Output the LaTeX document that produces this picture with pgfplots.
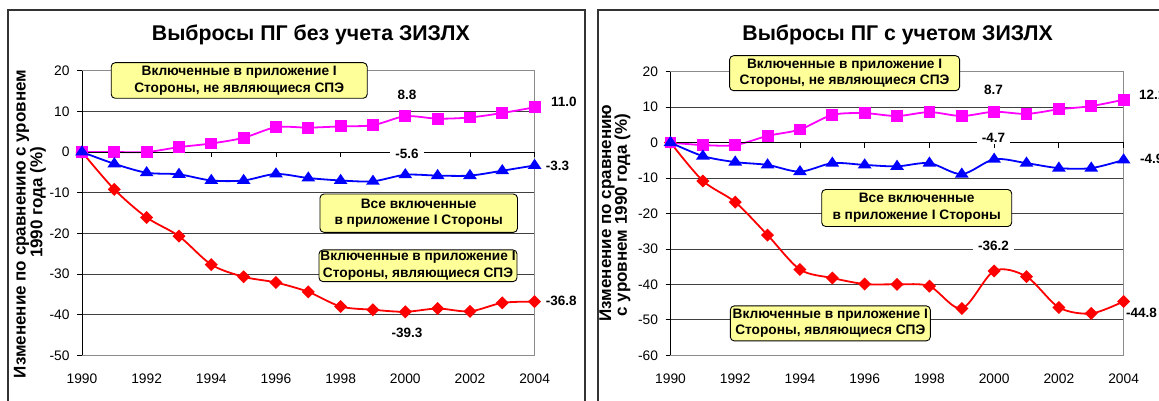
\documentclass[border=0pt]{standalone}
\usepackage{fontspec}
\setmainfont{Liberation Sans}
\usepackage{pgfplots}
\pgfplotsset{compat=1.18}
\definecolor{boxyellow}{HTML}{FFFF99}
\definecolor{mag}{HTML}{FF00FF}
\definecolor{gridgray}{HTML}{404040}
\definecolor{bordergray}{HTML}{8C8C8C}
\definecolor{framegray}{HTML}{333333}

\pgfplotsset{
 mychart/.style={
  scale only axis,
  anchor=south west,
  xmin=1990, xmax=2004,
  xtick={1990,1992,...,2004},
  /pgf/number format/assume math mode=true,
  /pgf/number format/1000 sep={},
  x tick label style={font=\fontsize{13.8}{16}\selectfont, yshift=-10pt},
  y tick label style={font=\fontsize{13.8}{16}\selectfont, xshift=-4pt},
  ytick distance=10,
  ymajorgrids,
  grid style={gridgray, line width=0.8pt},
  axis line style={bordergray, line width=0.9pt},
  tick align=outside,
  ytick pos=left,
  major tick length=5pt,
  xtick style={draw=none},
  ytick style={black, line width=0.8pt},
  clip=false,
 },
 magser/.style={mag, line width=1.8pt, smooth, mark=square*, mark size=5pt, mark options={solid}},
 bluser/.style={blue, line width=1.8pt, smooth, mark=triangle*, mark size=6pt, mark options={solid, yscale=0.85}},
 redser/.style={red, line width=1.8pt, smooth, mark=square*, mark size=3.7pt, mark options={solid, rotate=45}},
}
\tikzset{
 lbox/.style={draw=black, fill=boxyellow, rounded corners=4pt, line width=0.9pt, align=center, inner sep=0pt,
   font=\bfseries\fontsize{13.7}{16.6}\selectfont},
 dlab/.style={font=\bfseries\fontsize{13.5}{15}\selectfont, inner sep=2pt},
 ylab/.style={font=\bfseries\fontsize{17}{19}\selectfont, rotate=90},
}

\begin{document}
\begin{tikzpicture}
\useasboundingbox (0,0) rectangle (1159pt,401pt);
% frames
\draw[framegray, line width=1.5pt] (8pt,391pt) rectangle (585pt,-10pt);
\draw[framegray, line width=1.5pt] (598pt,391pt) rectangle (1175pt,-10pt);

% ---------- left chart ----------
\begin{axis}[mychart, at={(82pt,45.7pt)}, width=452.6pt, height=284.6pt, ymin=-50, ymax=20]
\addplot[redser] coordinates {(1990,0) (1991,-9.2) (1992,-16.1) (1993,-20.7) (1994,-27.7) (1995,-30.7) (1996,-32.1) (1997,-34.4) (1998,-38.0) (1999,-38.8) (2000,-39.3) (2001,-38.5) (2002,-39.2) (2003,-37.1) (2004,-36.8)};
\addplot[magser] coordinates {(1990,0) (1991,0) (1992,0) (1993,1.2) (1994,2.1) (1995,3.5) (1996,6.1) (1997,6.0) (1998,6.3) (1999,6.6) (2000,8.8) (2001,8.2) (2002,8.5) (2003,9.6) (2004,11.0)};
\addplot[bluser] coordinates {(1990,0) (1991,-2.9) (1992,-5.1) (1993,-5.5) (1994,-7.0) (1995,-7.0) (1996,-5.4) (1997,-6.4) (1998,-7.0) (1999,-7.2) (2000,-5.6) (2001,-5.8) (2002,-5.8) (2003,-4.6) (2004,-3.3)};
\draw[black, line width=0.8pt] (rel axis cs:0,0) -- (rel axis cs:0,1);
\draw[black, line width=0.8pt] (axis cs:1990,0) -- (axis cs:2004,0);
\pgfplotsinvokeforeach{1992,1994,1996,1998,2000,2002,2004}{\draw[black, line width=0.8pt] (axis cs:#1,0) -- ++(0pt,-5pt);}
\end{axis}

% ---------- right chart ----------
\begin{axis}[mychart, at={(670.5pt,45.7pt)}, width=453.1pt, height=283.6pt, ymin=-60, ymax=20]
\addplot[redser] coordinates {(1990,0) (1991,-10.8) (1992,-16.8) (1993,-26.1) (1994,-35.8) (1995,-38.2) (1996,-39.9) (1997,-40.0) (1998,-40.5) (1999,-46.8) (2000,-36.2) (2001,-37.8) (2002,-46.5) (2003,-48.2) (2004,-44.8)};
\addplot[magser] coordinates {(1990,0) (1991,-0.7) (1992,-0.7) (1993,1.9) (1994,3.7) (1995,7.8) (1996,8.3) (1997,7.5) (1998,8.6) (1999,7.5) (2000,8.7) (2001,8.1) (2002,9.4) (2003,10.3) (2004,12.1)};
\addplot[bluser] coordinates {(1990,0) (1991,-3.8) (1992,-5.5) (1993,-6.3) (1994,-8.2) (1995,-5.8) (1996,-6.3) (1997,-6.7) (1998,-5.8) (1999,-8.9) (2000,-4.7) (2001,-5.8) (2002,-7.2) (2003,-7.2) (2004,-4.9)};
\draw[black, line width=0.8pt] (rel axis cs:0,0) -- (rel axis cs:0,1);
\draw[black, line width=0.8pt] (axis cs:1990,0) -- (axis cs:2004,0);
\pgfplotsinvokeforeach{1992,1994,1996,1998,2000,2002,2004}{\draw[black, line width=0.8pt] (axis cs:#1,0) -- ++(0pt,-5pt);}
\end{axis}

% titles
\node[font=\bfseries\fontsize{21.3}{25}\selectfont] at (310.8pt,366pt) {Выбросы ПГ без учета ЗИЗЛХ};
\node[font=\bfseries\fontsize{21.3}{25}\selectfont] at (897.6pt,366pt) {Выбросы ПГ с учетом ЗИЗЛХ};

% y labels
\node[ylab] at (21.5pt,177pt) {Изменение по сравнению с уровнем};
\node[ylab] at (38pt,198.5pt) {1990 года (\%)};
\node[ylab] at (607pt,188pt) {Изменение по сравнению};
\node[ylab] at (622.5pt,186pt) {с уровнем 1990 года (\%)};

% boxes left
\node[lbox, minimum width=256pt, minimum height=35.6pt] at (239.2pt,320.5pt) {Включенные в приложение I\\Стороны, не являющиеся СПЭ};
\node[lbox, minimum width=197.5pt, minimum height=38.3pt] at (418.7pt,187.8pt) {Все включенные\\в приложение I Стороны};
\node[lbox, minimum width=198pt, minimum height=31.7pt] at (418pt,135.2pt) {Включенные в приложение I\\Стороны, являющиеся СПЭ};
% boxes right
\node[lbox, minimum width=230pt, minimum height=35pt] at (844.6pt,327.8pt) {Включенные в приложение I\\Стороны, не являющиеся СПЭ};
\node[lbox, minimum width=190pt, minimum height=37pt] at (916.7pt,193pt) {Все включенные\\в приложение I Стороны};
\node[lbox, minimum width=200pt, minimum height=35pt] at (830.3pt,77.6pt) {Включенные в приложение I\\Стороны, являющиеся СПЭ};

% data labels left
\node[dlab] at (407pt,306pt) {8.8};
\node[dlab, anchor=west, inner sep=0pt] at (551pt,299.3pt) {11.0};
\node[dlab, fill=white, inner xsep=5pt] at (407pt,247pt) {-5.6};
\node[dlab, anchor=west, inner sep=0pt] at (545.7pt,235.3pt) {-3.3};
\node[dlab, anchor=west, inner sep=0pt] at (545.7pt,100.3pt) {-36.8};
\node[dlab] at (407pt,68.3pt) {-39.3};
% data labels right
\node[dlab] at (993.6pt,311pt) {8.7};
\node[dlab, anchor=west, inner sep=0pt] at (1139pt,306pt) {12.1};
\node[dlab, fill=white, inner xsep=5pt] at (993.6pt,263.3pt) {-4.7};
\node[dlab, anchor=west, inner sep=0pt] at (1140pt,241.7pt) {-4.9};
\node[dlab, fill=white, inner xsep=5pt] at (993.6pt,155pt) {-36.2};
\node[dlab, anchor=west, inner sep=0pt] at (1126pt,88pt) {-44.8};
\end{tikzpicture}
\end{document}
